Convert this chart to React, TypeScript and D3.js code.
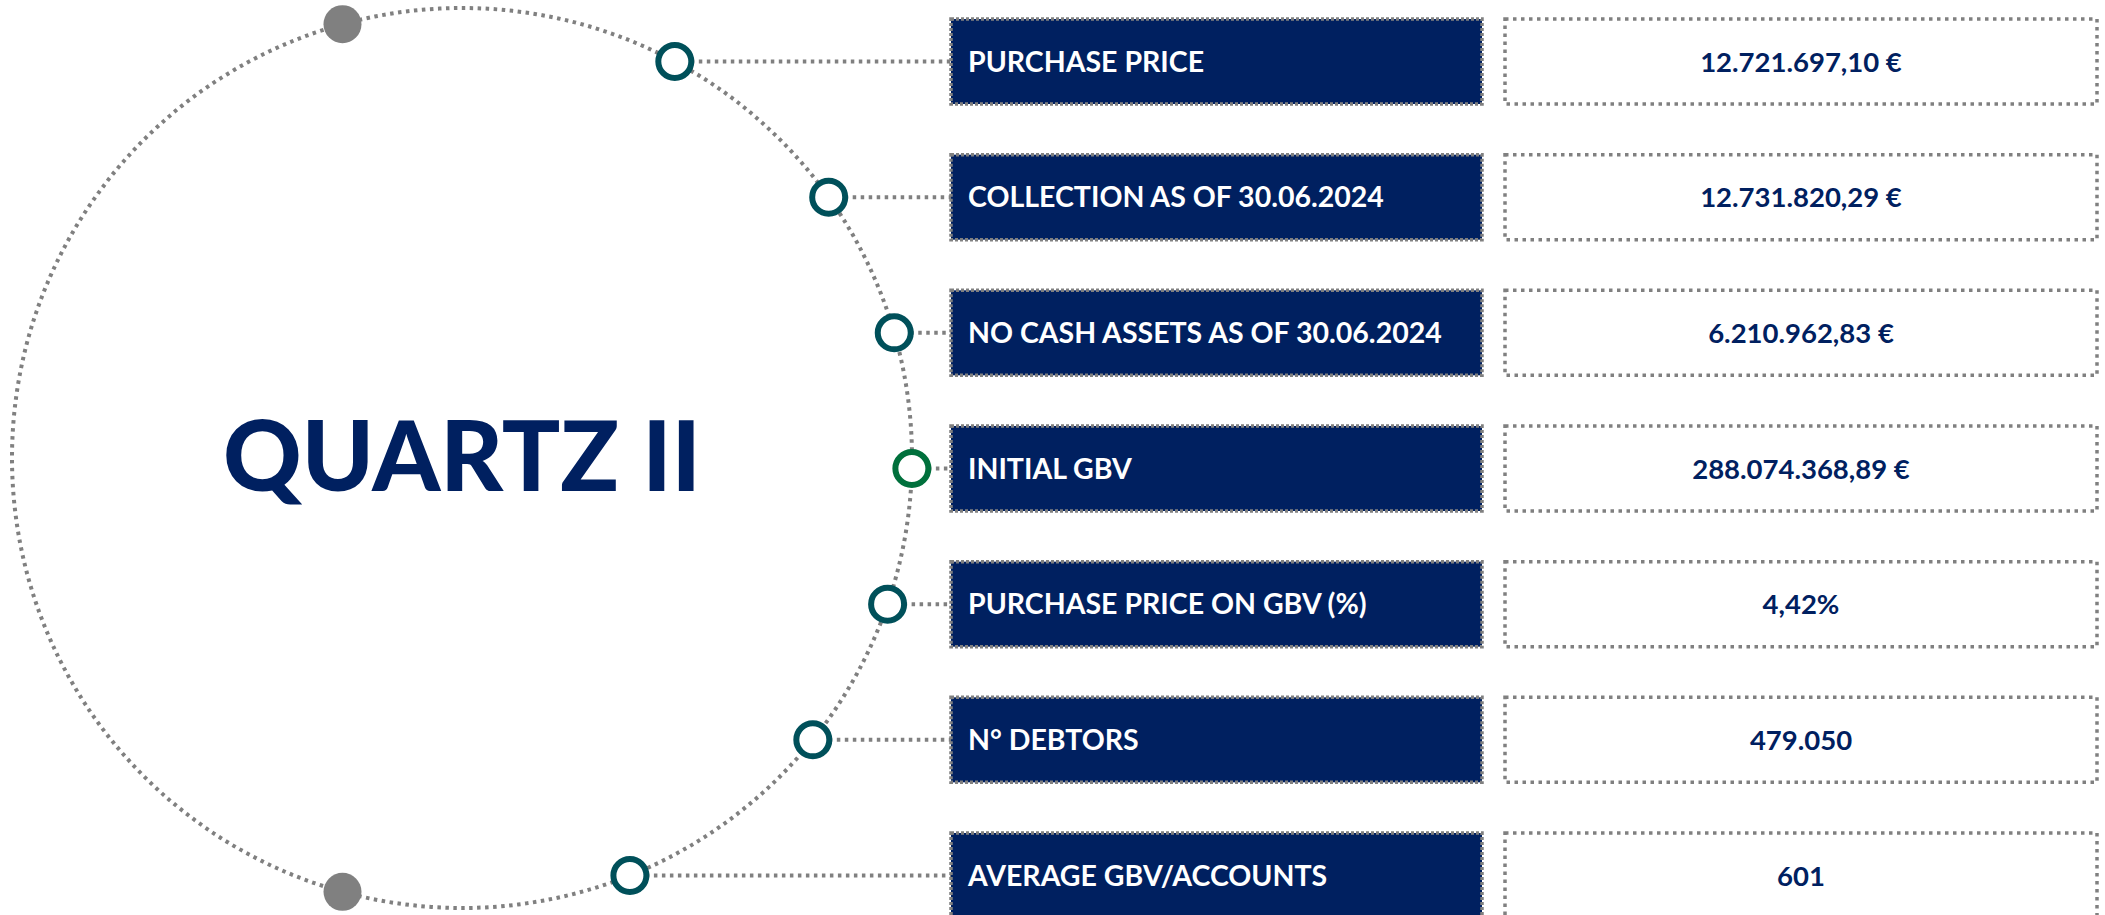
import * as d3 from 'd3';

const W = 2105;
const H = 915;

const TITLE = 'QUARTZ II';
const labels = [
  'PURCHASE PRICE',
  'COLLECTION AS OF 30.06.2024',
  'NO CASH ASSETS AS OF 30.06.2024',
  'INITIAL GBV',
  'PURCHASE PRICE ON GBV (%)',
  'N° DEBTORS',
  'AVERAGE GBV/ACCOUNTS',
];
const values = [
  '12.721.697,10 €',
  '12.731.820,29 €',
  '6.210.962,83 €',
  '288.074.368,89 €',
  '4,42%',
  '479.050',
  '601',
];
const HIGHLIGHT = 'INITIAL GBV';

const NAVY = '#002060';
const TEAL = '#00505a';
const GREEN = '#00703c';
const GREY = '#808080';
const FONT = 'Lato, "Open Sans", sans-serif';

const CX = 462;
const CY = 458;
const R = 450;
const ROW_H = 85;
const LABEL_X = 951;
const LABEL_W = 531;
const VALUE_X = 1505;
const VALUE_W = 592;

export default function App() {
  const rowTop = d3.scaleLinear().domain([0, labels.length - 1]).range([19, 833]);
  const rows = labels.map((label, i) => {
    const y = rowTop(i) + ROW_H / 2;
    const dy = y - CY;
    const x = CX + Math.sqrt(Math.max(0, R * R - dy * dy));
    return { label, value: values[i], top: rowTop(i), y, x };
  });
  // grey anchor dots, mirrored about the horizontal diameter
  const greyAngle = (-105.4 * Math.PI) / 180;
  const greyDots = [greyAngle, -greyAngle].map(a => ({
    x: CX + R * Math.cos(a),
    y: CY + R * Math.sin(a),
  }));

  return (
    <svg
      width={W}
      height={H}
      style={{ position: 'absolute', left: 0, top: 0, background: '#fff' }}
      fontFamily={FONT}
    >
      <circle cx={CX} cy={CY} r={R} fill="none" stroke={GREY} strokeWidth={4} strokeDasharray="3.5 4.5" />

      {rows.map(r => (
        <line
          key={'c' + r.label}
          x1={r.x}
          x2={LABEL_X}
          y1={r.y}
          y2={r.y}
          stroke={GREY}
          strokeWidth={4}
          strokeDasharray="3.5 4.5"
        />
      ))}

      {greyDots.map((d, i) => (
        <circle key={'g' + i} cx={d.x} cy={d.y} r={19} fill={GREY} />
      ))}

      {rows.map(r => (
        <circle
          key={'r' + r.label}
          cx={r.x}
          cy={r.y}
          r={16.5}
          fill="#fff"
          stroke={r.label === HIGHLIGHT ? GREEN : TEAL}
          strokeWidth={6}
        />
      ))}

      <text
        x={CX}
        y={491}
        textAnchor="middle"
        fontSize={97}
        fontWeight={900}
        fill={NAVY}
      >
        {TITLE}
      </text>

      {rows.map(r => (
        <g key={'b' + r.label}>
          <rect
            x={LABEL_X}
            y={r.top}
            width={LABEL_W}
            height={ROW_H}
            fill={NAVY}
            stroke={GREY}
            strokeWidth={3.5}
            strokeDasharray="3 2"
          />
          <text x={LABEL_X + 17} y={r.y + 10} fontSize={28.5} fontWeight={700} fill="#fff">
            {r.label}
          </text>
          <rect
            x={VALUE_X}
            y={r.top}
            width={VALUE_W}
            height={ROW_H}
            fill="#fff"
            stroke={GREY}
            strokeWidth={3.5}
            strokeDasharray="3.5 4.5"
          />
          <text
            x={VALUE_X + VALUE_W / 2}
            y={r.y + 10}
            textAnchor="middle"
            fontSize={27.5}
            fontWeight={700}
            fill={NAVY}
          >
            {r.value}
          </text>
        </g>
      ))}
    </svg>
  );
}
